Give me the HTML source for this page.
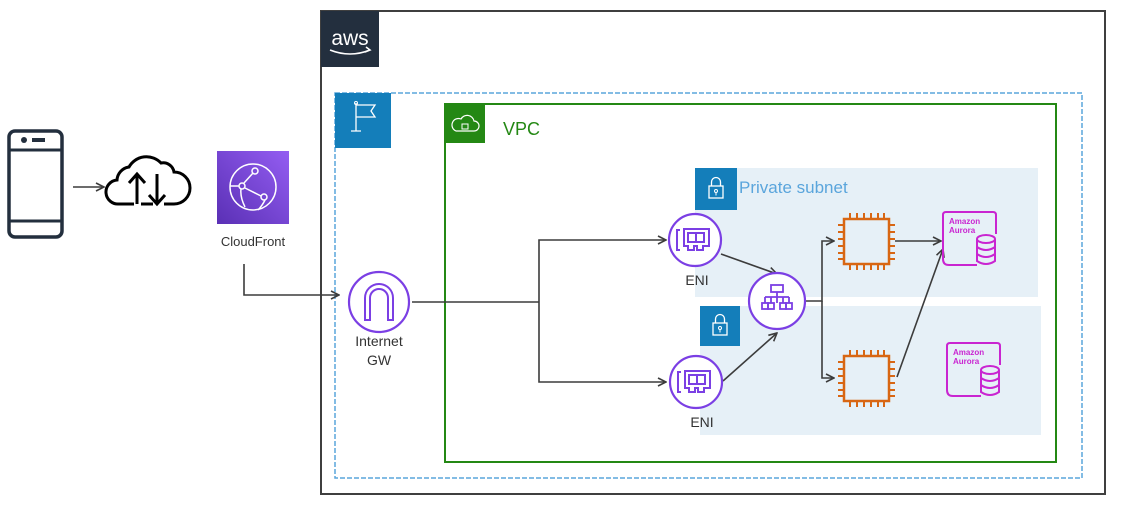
<!DOCTYPE html>
<html><head><meta charset="utf-8"><style>
html,body{margin:0;padding:0;background:#fff;width:1132px;height:507px;overflow:hidden}
svg{display:block}
text{font-family:"Liberation Sans","DejaVu Sans",sans-serif}
</style></head><body>
<svg width="1132" height="507" viewBox="0 0 1132 507" xmlns="http://www.w3.org/2000/svg">
<defs>
<marker id="ar" viewBox="0 0 10 10" refX="9" refY="5" markerWidth="10" markerHeight="10" markerUnits="userSpaceOnUse" orient="auto"><path d="M1,1 L9,5 L1,9" fill="none" stroke="#3c3c3c" stroke-width="1.6"/></marker>
<linearGradient id="cf" x1="1" y1="0" x2="0" y2="1"><stop offset="0" stop-color="#945df2"/><stop offset="1" stop-color="#5a30b5"/></linearGradient>
<g id="chip">
<rect x="6" y="6" width="45" height="45" fill="none" stroke="#d86613" stroke-width="2.5"/>
<g stroke="#d86613" stroke-width="2">
<path d="M12,0v6M19,0v6M26,0v6M33,0v6M40,0v6M46,0v6M12,51v6M19,51v6M26,51v6M33,51v6M40,51v6M46,51v6M0,12h6M0,19h6M0,26h6M0,33h6M0,40h6M0,46h6M51,12h6M51,19h6M51,26h6M51,33h6M51,40h6M51,46h6"/>
</g></g>
<g id="aur">
<path d="M0,3 Q0,0 3,0 H50 Q53,0 53,3 V22 M34,53 H6 Q0,53 0,47 V3" fill="none" stroke="#c925d1" stroke-width="2"/>
<text x="6" y="12" font-size="8" font-weight="bold" fill="#c925d1">Amazon</text>
<text x="6" y="21" font-size="8" font-weight="bold" fill="#c925d1">Aurora</text>
<g fill="none" stroke="#c925d1" stroke-width="2"><ellipse cx="43" cy="27" rx="9" ry="4"/><path d="M34,27v22q9,6 18,0v-22M34,35q9,6 18,0M34,42q9,6 18,0"/></g>
</g>
<g id="eni">
<circle r="26" fill="#fff" stroke="#7b3fe4" stroke-width="2.2"/>
<path d="M-15,-10h-3v20h3" fill="none" stroke="#7b3fe4" stroke-width="2"/>
<path d="M-11,-11h25v17h-6v4h-6v-4h-3v4h-6v-4h-4z" fill="none" stroke="#7b3fe4" stroke-width="2"/>
<rect x="-7" y="-7" width="16" height="9" fill="none" stroke="#7b3fe4" stroke-width="2"/><path d="M1,-7v9" stroke="#7b3fe4" stroke-width="2"/>
</g>
<g id="lock"><rect x="-7" y="-3" width="14" height="12" fill="none" stroke="#fff" stroke-width="1.3"/><path d="M-4.5,-3v-4a4.5,4.5 0 0 1 9,0v4" fill="none" stroke="#fff" stroke-width="1.3"/><circle cx="0" cy="2" r="1.5" fill="none" stroke="#fff"/><path d="M0,3.5v3" stroke="#fff"/></g>
</defs>

<!-- AWS cloud -->
<rect x="321" y="11" width="784" height="483" fill="none" stroke="#3f3f3f" stroke-width="2"/>
<rect x="321" y="11" width="58" height="56" fill="#232f3e"/>
<text x="350" y="45" font-size="21" fill="#fff" text-anchor="middle">aws</text>
<path d="M330,50 q20,8 40,0 M366,47 l4,3 -5,2" fill="none" stroke="#fff" stroke-width="1.6"/>

<!-- Region dashed -->
<rect x="335" y="93" width="747" height="385" fill="none" stroke="#5aa5dc" stroke-width="1.5" stroke-dasharray="5,2"/>
<rect x="335" y="93" width="56" height="55" fill="#147eba"/>
<path d="M351,131h10M356,131v-28M356,105h19l-4,6 4,6h-19" fill="none" stroke="#fff" stroke-width="1.3"/><circle cx="356" cy="103" r="1.5" fill="none" stroke="#fff"/>

<!-- VPC -->
<rect x="445" y="104" width="611" height="358" fill="none" stroke="#248814" stroke-width="2"/>
<rect x="445" y="104" width="40" height="39" fill="#248814"/>
<path d="M456,131h18a5,5 0 0 0 0,-10a7,7 0 0 0 -13,-2a5,5 0 0 0 -5,12z" fill="none" stroke="#fff" stroke-width="1.2"/>
<rect x="462" y="124" width="6" height="5" fill="none" stroke="#fff"/>
<text x="503" y="135" font-size="18" fill="#248814">VPC</text>

<!-- Subnets -->
<rect x="695" y="168" width="343" height="129" fill="#e6f0f7"/>
<rect x="695" y="168" width="42" height="42" fill="#147eba"/>
<use href="#lock" x="716" y="189"/>
<text x="739" y="193" font-size="17" fill="#5aa5dc">Private subnet</text>
<rect x="700" y="306" width="341" height="129" fill="#e6f0f7"/>
<rect x="700" y="306" width="40" height="40" fill="#147eba"/>
<use href="#lock" x="720" y="326"/>

<!-- Phone -->
<rect x="9" y="131" width="53" height="106" rx="6" fill="none" stroke="#232f3e" stroke-width="3.5"/>
<path d="M9,150h53M9,221h53" stroke="#232f3e" stroke-width="3"/>
<circle cx="24" cy="140" r="3" fill="#232f3e"/><rect x="32" y="138" width="13" height="4" fill="#232f3e"/>
<line x1="73" y1="187" x2="104" y2="187" stroke="#3c3c3c" stroke-width="1.6" marker-end="url(#ar)"/>
<!-- cloud -->
<path d="M134,204h-15a12,12 0 0 1 -2,-24a14,14 0 0 1 12,-13a20,20 0 0 1 32,-4a11,11 0 0 1 13,9a13,13 0 0 1 0,32h-10" fill="none" stroke="#000" stroke-width="3"/>
<path d="M137,204v-30M129,183l8,-9 8,9M157,174v30M149,195l8,9 8,-9M141,204h12" fill="none" stroke="#000" stroke-width="3"/>

<!-- CloudFront -->
<rect x="217" y="151" width="72" height="73" fill="url(#cf)"/>
<circle cx="253" cy="187" r="23" fill="none" stroke="#fff" stroke-width="1.5"/>
<g fill="none" stroke="#fff" stroke-width="1.5"><circle cx="255" cy="171" r="3"/><circle cx="242" cy="186" r="3"/><circle cx="264" cy="197" r="3"/><path d="M244,183l9,-10M245,188l16,8M265,200q-3,6 -7,10M239,186h-9M245,207q-5,-10 -4,-18"/></g>
<text x="253" y="246" font-size="13" fill="#333" text-anchor="middle">CloudFront</text>
<path d="M244,264V295H339" fill="none" stroke="#3c3c3c" stroke-width="1.6" marker-end="url(#ar)"/>

<!-- IGW -->
<circle cx="379" cy="302" r="30" fill="#fff" stroke="#7b3fe4" stroke-width="2.2"/>
<path d="M365,320v-22a14,14 0 0 1 28,0v22h-5v-22a9,9 0 0 0 -18,0v22z" fill="none" stroke="#7b3fe4" stroke-width="2"/>
<text x="379" y="346" font-size="14" fill="#333" text-anchor="middle">Internet</text>
<text x="379" y="365" font-size="14" fill="#333" text-anchor="middle">GW</text>

<g fill="none" stroke="#3c3c3c" stroke-width="1.6">
<path d="M412,302H539"/>
<path d="M539,302V240H666" marker-end="url(#ar)"/>
<path d="M539,302V382H666" marker-end="url(#ar)"/>
<path d="M721,254L777,274" marker-end="url(#ar)"/>
<path d="M723,381L777,333" marker-end="url(#ar)"/>
<path d="M805,301H822V241H834" marker-end="url(#ar)"/>
<path d="M822,301V378H834" marker-end="url(#ar)"/>
<path d="M895,241H941" marker-end="url(#ar)"/>
<path d="M897,377L943,249" marker-end="url(#ar)"/>
</g>

<use href="#eni" x="695" y="240"/>
<text x="697" y="285" font-size="14" fill="#333" text-anchor="middle">ENI</text>
<use href="#eni" x="696" y="382"/>
<text x="702" y="427" font-size="14" fill="#333" text-anchor="middle">ENI</text>

<!-- ELB -->
<circle cx="777" cy="301" r="28" fill="#fff" stroke="#7b3fe4" stroke-width="2.2"/>
<g fill="none" stroke="#7b3fe4" stroke-width="1.8">
<rect x="771" y="285" width="12" height="7"/><path d="M777,292v5M765,297h24M765,297v6M777,297v6M789,297v6M771,297v6M783,297v6"/>
<rect x="762" y="303" width="6" height="6"/><rect x="768" y="303" width="6" height="6"/><rect x="780" y="303" width="6" height="6"/><rect x="786" y="303" width="6" height="6"/>
</g>

<use href="#chip" x="838" y="213"/>
<use href="#chip" x="838" y="350"/>
<use href="#aur" x="943" y="212"/>
<use href="#aur" x="947" y="343"/>
</svg>
</body></html>
